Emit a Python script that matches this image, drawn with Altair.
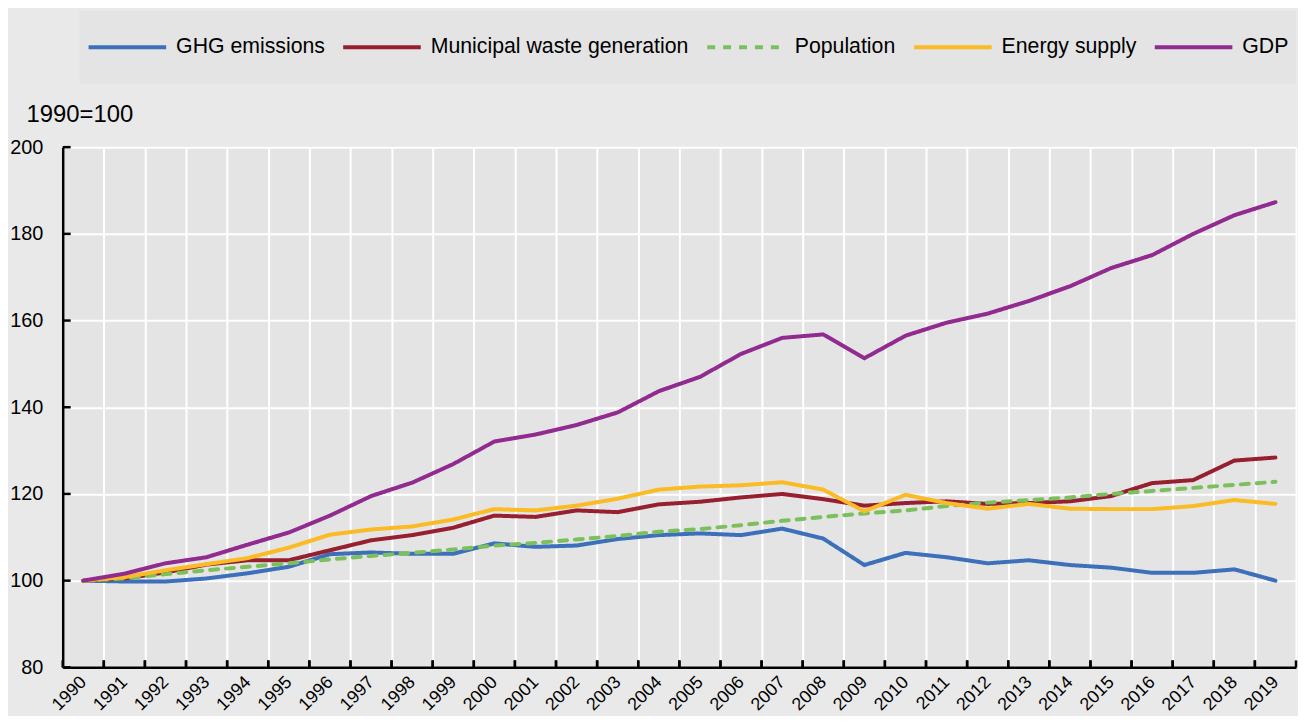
import altair as alt
import pandas as pd

years = list(range(1990, 2020))
ghg = [100.0, 99.8, 99.8, 100.5, 101.7, 103.2, 106.1, 106.5, 106.2, 106.2,
       108.6, 107.8, 108.1, 109.6, 110.5, 110.9, 110.5, 112.0, 109.7, 103.6,
       106.4, 105.4, 104.0, 104.7, 103.6, 103.0, 101.8, 101.8, 102.6, 100.0]
waste = [100.0, 100.5, 101.9, 103.7, 104.7, 104.7, 107.0, 109.3, 110.5, 112.2,
         115.0, 114.7, 116.2, 115.8, 117.6, 118.2, 119.2, 120.0, 118.8, 117.3,
         117.9, 118.3, 117.7, 117.9, 118.3, 119.5, 122.5, 123.2, 127.7, 128.4]
population = [100.0, 100.5, 101.5, 102.4, 103.2, 104.0, 104.9, 105.7, 106.4, 107.2,
              108.1, 108.7, 109.5, 110.3, 111.3, 111.9, 112.8, 113.8, 114.7, 115.5,
              116.2, 117.2, 118.0, 118.6, 119.2, 120.0, 120.7, 121.4, 122.1, 122.8]
energy = [100.0, 100.8, 102.4, 103.8, 105.2, 107.6, 110.6, 111.8, 112.5, 114.1,
          116.5, 116.2, 117.3, 118.9, 121.0, 121.7, 122.0, 122.7, 121.0, 116.0,
          119.8, 117.9, 116.6, 117.7, 116.6, 116.5, 116.5, 117.2, 118.6, 117.7]
gdp = [100.0, 101.6, 104.0, 105.4, 108.3, 111.1, 115.0, 119.5, 122.6, 126.9,
       132.1, 133.7, 135.9, 138.8, 143.7, 147.0, 152.3, 156.0, 156.8, 151.3,
       156.5, 159.5, 161.6, 164.5, 167.9, 172.1, 175.1, 180.0, 184.3, 187.3]

series_names = ["GHG emissions", "Municipal waste generation", "Population",
                "Energy supply", "GDP"]
series_colors = ["#3d70ba", "#961f30", "#7cc05e", "#fbbb24", "#922b90"]
series_dashes = [[1, 0], [1, 0], [8, 8], [1, 0], [1, 0]]
y_ticks = [80, 100, 120, 140, 160, 180, 200]

rows = []
for name, vals in zip(series_names, [ghg, waste, population, energy, gdp]):
    for yr, v in zip(years, vals):
        rows.append({"year": yr, "value": v, "series": name})
df = pd.DataFrame(rows)

W, H = 1240, 523
FONT = "Liberation Sans"

x_axis = alt.Axis(title=None, grid=True, gridColor="white", gridWidth=2,
                  tickBand="extent", ticks=False, tickSize=0,
                  labelAngle=-45, labelFontSize=18, labelPadding=12,
                  labelAlign="right", labelBaseline="middle",
                  labelColor="black", domainColor="black", domainWidth=2.5)
x_scale = alt.Scale(type="band", paddingInner=0, paddingOuter=0)

y_axis = alt.Axis(title="1990=100", values=y_ticks, grid=True, gridColor="white",
                  gridWidth=2, ticks=False, tickSize=0, labelFontSize=20,
                  labelPadding=20, labelColor="black", domainColor="black",
                  domainWidth=2.5, titleAngle=0, titleAlign="left",
                  titleBaseline="alphabetic", titleX=-37, titleY=-26,
                  titleFontSize=24, titleFontWeight="normal", titleColor="black")
y_scale = alt.Scale(domain=[80, 200], nice=False, zero=False)


def xenc(band_pos):
    return alt.X("year:O", scale=x_scale, axis=x_axis, bandPosition=band_pos)


legend = alt.Legend(title=None, orient="none", legendX=17, legendY=-137,
                    direction="horizontal", symbolType="stroke",
                    symbolSize=6084, symbolStrokeWidth=4, labelFontSize=21.4,
                    labelColor="black", labelOffset=8, labelLimit=400,
                    columnPadding=16, padding=7, fillColor="#e4e4e4",
                    clipHeight=59)

lines = alt.Chart(df).mark_line(strokeWidth=4, strokeCap="round").encode(
    x=xenc(0.5),
    y=alt.Y("value:Q", scale=y_scale, axis=y_axis),
    color=alt.Color("series:N", sort=series_names,
                    scale=alt.Scale(domain=series_names, range=series_colors),
                    legend=legend),
    strokeDash=alt.StrokeDash("series:N", sort=series_names,
                              scale=alt.Scale(domain=series_names, range=series_dashes),
                              legend=legend),
)

ytick_df = pd.DataFrame({"value": y_ticks})
yticks = alt.Chart(ytick_df).mark_rule(color="black", strokeWidth=2.5).encode(
    y=alt.Y("value:Q", scale=y_scale, axis=y_axis),
    x=alt.value(0), x2=alt.value(8),
)

xtick_df = pd.DataFrame({"year": years})
xticks0 = alt.Chart(xtick_df).mark_rule(color="black", strokeWidth=2.5).encode(
    x=xenc(0), y=alt.value(H), y2=alt.value(H - 7))
xticks1 = alt.Chart(xtick_df).mark_rule(color="black", strokeWidth=2.5).encode(
    x=xenc(1), y=alt.value(H), y2=alt.value(H - 7))

chart = alt.layer(yticks, xticks0, xticks1, lines).properties(
    width=W, height=H,
    padding={"left": 1, "top": 1, "right": 0, "bottom": 0},
    background="#e9e9e9",
).configure(font=FONT).configure_view(fill="#e4e4e4", stroke="transparent")

chart.save("out.html", embed_options={"renderer": "svg", "actions": False})
